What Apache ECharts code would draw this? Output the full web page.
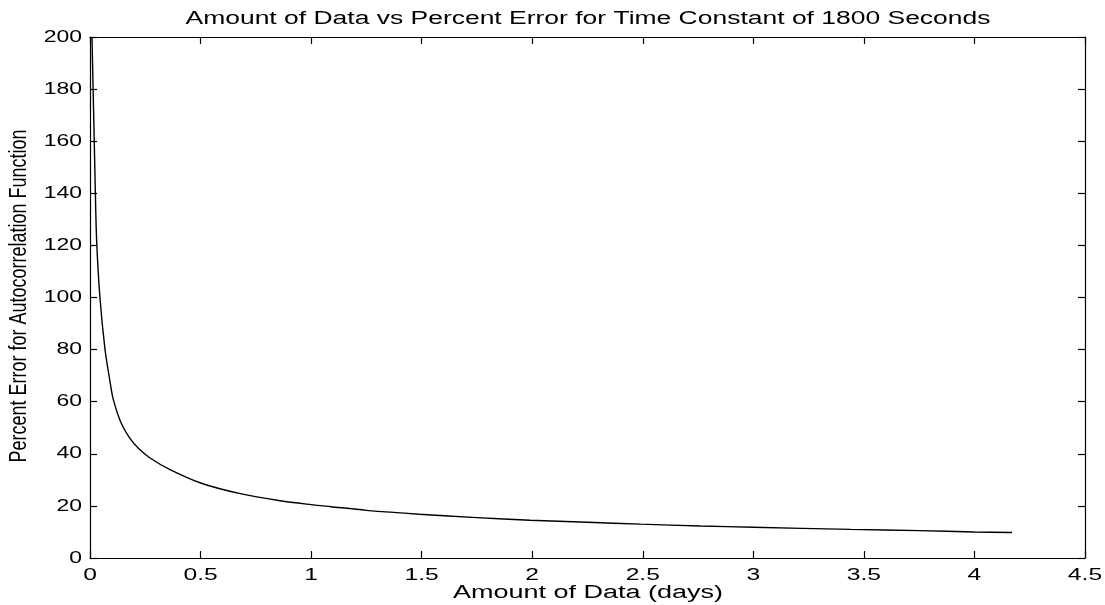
<!DOCTYPE html>
<html>
<head>
<meta charset="utf-8">
<script src="https://cdn.jsdelivr.net/npm/echarts@6/dist/echarts.min.js"></script>
<style>
  html, body { margin: 0; padding: 0; background: #fff; }
  #chart { width: 1105px; height: 605px; }
</style>
</head>
<body>
<div id="chart"></div>
<script>
// Amount of data (days) and the resulting percent error
const amountDays = [0.009, 0.014, 0.018, 0.023, 0.03, 0.045, 0.068, 0.09, 0.105, 0.14,
  0.18, 0.22, 0.27, 0.36, 0.5, 0.68, 0.86, 1.0, 1.09, 1.25,
  1.49, 1.75, 1.99, 2.25, 2.49, 2.76, 3.0, 3.44, 3.75, 4.0, 4.17];
const percentError = [200, 180, 165, 145, 122, 100, 80, 68, 61, 52,
  46, 42, 38.5, 34, 28.8, 24.7, 22, 20.5, 19.7, 18.3,
  16.8, 15.5, 14.5, 13.7, 13, 12.3, 11.8, 11, 10.5, 10, 9.8];

const xTicks = [0, 0.5, 1, 1.5, 2, 2.5, 3, 3.5, 4, 4.5];
const yTicks = [0, 20, 40, 60, 80, 100, 120, 140, 160, 180, 200];

const titleText = 'Amount of Data vs Percent Error for Time Constant of 1800 Seconds';
const xName = 'Amount of Data (days)';
const yName = 'Percent Error for Autocorrelation Function';

const FONT = '"Liberation Sans", Arial, Helvetica, sans-serif';
const chart = echarts.init(document.getElementById('chart'));

const axisCommon = {
  type: 'value',
  axisLine: { show: true, onZero: false, lineStyle: { color: '#000', width: 1.2 } },
  axisTick: { show: true, inside: true, length: 7, lineStyle: { color: '#000', width: 1.2 } },
  axisLabel: { show: false },
  splitLine: { show: false }
};

chart.setOption({
  animation: false,
  backgroundColor: '#fff',
  grid: { left: 90, right: 20, top: 37, bottom: 47 },
  xAxis: [
    Object.assign({}, axisCommon, { min: 0, max: 4.5, interval: 0.5, position: 'bottom' }),
    Object.assign({}, axisCommon, { min: 0, max: 4.5, interval: 0.5, position: 'top' })
  ],
  yAxis: [
    Object.assign({}, axisCommon, { min: 0, max: 200, interval: 20, position: 'left' }),
    Object.assign({}, axisCommon, { min: 0, max: 200, interval: 20, position: 'right' })
  ],
  series: [{
    type: 'line',
    data: amountDays.map((d, i) => [d, percentError[i]]),
    showSymbol: false,
    smooth: 0.3,
    lineStyle: { color: '#000', width: 1.4 }
  }]
});

// Text is drawn with a horizontal stretch, so it is placed as graphic elements
const graphics = [];
xTicks.forEach(v => {
  const p = chart.convertToPixel({ xAxisIndex: 0, yAxisIndex: 0 }, [v, 0]);
  graphics.push({
    type: 'text', x: p[0], y: p[1] + 17, scaleX: 1.45, silent: true,
    style: { text: String(v), x: 0, y: 0, align: 'center', verticalAlign: 'middle',
      font: '17px ' + FONT, fill: '#000' }
  });
});
yTicks.forEach(v => {
  const p = chart.convertToPixel({ xAxisIndex: 0, yAxisIndex: 0 }, [0, v]);
  graphics.push({
    type: 'text', x: p[0] - 8, y: p[1], scaleX: 1.35, silent: true,
    style: { text: String(v), x: 0, y: 0, align: 'right', verticalAlign: 'middle',
      font: '17px ' + FONT, fill: '#000' }
  });
});
graphics.push({
  type: 'text', x: 588, y: 19, scaleX: 1.47, silent: true,
  style: { text: titleText, x: 0, y: 0, align: 'center', verticalAlign: 'middle',
    font: '18px ' + FONT, fill: '#000' }
});
graphics.push({
  type: 'text', x: 588, y: 593, scaleX: 1.5, silent: true,
  style: { text: xName, x: 0, y: 0, align: 'center', verticalAlign: 'middle',
    font: '18px ' + FONT, fill: '#000' }
});
graphics.push({
  type: 'text', x: 19, y: 296, rotation: Math.PI / 2, scaleY: 1.35, silent: true,
  style: { text: yName, x: 0, y: 0, align: 'center', verticalAlign: 'middle',
    font: '18px ' + FONT, fill: '#000' }
});
chart.setOption({ graphic: graphics });
</script>
</body>
</html>
